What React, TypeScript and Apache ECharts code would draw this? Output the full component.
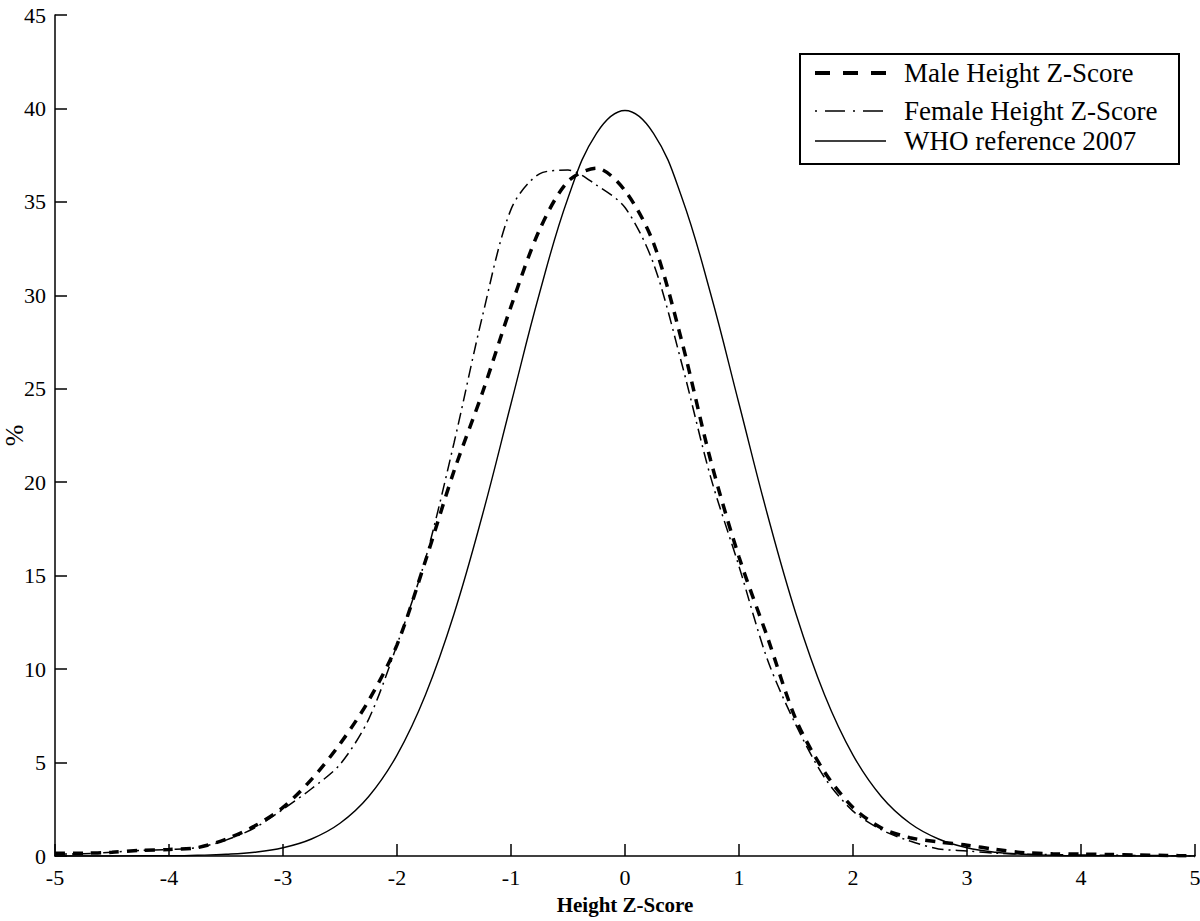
import React, { useEffect, useRef } from "react";
import * as echarts from "echarts";

const zValues = [
  -5, -4.75, -4.5, -4.25, -4, -3.75, -3.5, -3.25, -3, -2.75, -2.5, -2.25, -2, -1.75, -1.5, -1.25, -1, -0.75, -0.5, -0.25,
  0, 0.25, 0.5, 0.75, 1, 1.25, 1.5, 1.75, 2, 2.25, 2.5, 2.75, 3, 3.25, 3.5, 3.75, 4, 4.25, 4.5, 4.75, 5,
];

const maleValues = [
  0.15, 0.15, 0.2, 0.3, 0.35, 0.45, 0.9, 1.6, 2.6, 4.1, 6.0, 8.3, 11.3, 15.8, 20.6, 24.8, 29.4, 33.5, 36.1, 36.8,
  35.6, 32.8, 27.5, 21.2, 16.0, 11.7, 7.3, 4.5, 2.6, 1.5, 0.98, 0.75, 0.58, 0.35, 0.18, 0.12, 0.1, 0.08, 0.05, 0.03, 0.0,
];

const femaleValues = [
  0.1, 0.12, 0.2, 0.3, 0.35, 0.45, 0.85, 1.5, 2.5, 3.6, 4.9, 7.3, 11.3, 15.9, 22.1, 28.9, 34.6, 36.5, 36.7, 35.9,
  34.7, 31.7, 26.3, 20.3, 15.5, 10.5, 7.0, 4.2, 2.4, 1.4, 0.8, 0.38, 0.27, 0.15, 0.1, 0.07, 0.05, 0.04, 0.03, 0.02, 0.0,
];

const whoValues = [
  0.0, 0.0, 0.0, 0.01, 0.01, 0.04, 0.09, 0.2, 0.44, 0.91, 1.75, 3.17, 5.4, 8.63, 12.95, 18.26, 24.2, 30.11, 35.21, 38.67,
  39.89, 38.67, 35.21, 30.11, 24.2, 18.26, 12.95, 8.63, 5.4, 3.17, 1.75, 0.91, 0.44, 0.2, 0.09, 0.04, 0.01, 0.01, 0.0, 0.0, 0.0,
];

const legendLabels = ["Male Height Z-Score", "Female Height Z-Score", "WHO reference 2007"];

const pairs = (ys: number[]) => zValues.map((z, i) => [z, ys[i]]);

const FONT = "'Liberation Serif', 'Times New Roman', serif";

export default function App() {
  const ref = useRef<HTMLDivElement>(null);
  useEffect(() => {
    if (!ref.current) return;
    const chart = echarts.init(ref.current, null, { renderer: "svg" });
    const legendY = [73, 111, 141];
    const legendStyles = [
      { lineWidth: 4, lineDash: [15, 13] },
      { lineWidth: 1.6, lineDash: [2, 8, 20, 8] },
      { lineWidth: 1.4, lineDash: null as any },
    ];
    const legendGraphics: any[] = [
      {
        type: "rect",
        shape: { x: 800, y: 54, width: 379, height: 110 },
        style: { fill: "#fff", stroke: "#000", lineWidth: 2 },
        z: 10,
      },
    ];
    legendLabels.forEach((lab, i) => {
      legendGraphics.push({
        type: "line",
        shape: { x1: 815, y1: legendY[i], x2: 886, y2: legendY[i] },
        style: { stroke: "#000", lineWidth: legendStyles[i].lineWidth, lineDash: legendStyles[i].lineDash },
        z: 11,
      });
      legendGraphics.push({
        type: "text",
        x: 904,
        y: legendY[i],
        style: { text: lab, fill: "#000", font: `27px ${FONT}`, verticalAlign: "middle", align: "left" },
        z: 11,
      });
    });

    chart.setOption({
      animation: false,
      backgroundColor: "#fff",
      grid: { left: 55, right: 5, top: 15, bottom: 65, containLabel: false, outerBoundsMode: "none" },
      xAxis: {
        type: "value",
        min: -5,
        max: 5,
        interval: 1,
        name: "Height Z-Score",
        nameLocation: "middle",
        nameGap: 38,
        nameMoveOverlap: false,
        nameTextStyle: { fontFamily: FONT, fontSize: 21, fontWeight: "bold", color: "#000" },
        axisLine: { onZero: false, lineStyle: { color: "#000", width: 1.5 } },
        axisTick: { inside: true, length: 12, lineStyle: { color: "#000", width: 1.5 } },
        axisLabel: { fontFamily: FONT, fontSize: 22, color: "#000", margin: 10 },
        splitLine: { show: false },
      },
      yAxis: {
        type: "value",
        min: 0,
        max: 45,
        interval: 5,
        name: "%",
        nameLocation: "middle",
        nameGap: 28,
        nameMoveOverlap: false,
        nameTextStyle: { fontFamily: FONT, fontSize: 26, color: "#000" },
        axisLine: { show: true, onZero: false, lineStyle: { color: "#000", width: 1.5 } },
        axisTick: { show: true, inside: true, length: 12, lineStyle: { color: "#000", width: 1.5 } },
        axisLabel: { fontFamily: FONT, fontSize: 22, color: "#000", margin: 9 },
        splitLine: { show: false },
      },
      series: [
        {
          name: legendLabels[0],
          type: "line",
          data: pairs(maleValues),
          showSymbol: false,
          smooth: 0.3,
          lineStyle: { color: "#000", width: 3.5, type: [10, 8] },
          z: 3,
        },
        {
          name: legendLabels[1],
          type: "line",
          data: pairs(femaleValues),
          showSymbol: false,
          smooth: 0.3,
          lineStyle: { color: "#000", width: 1.5, type: [12, 5, 2, 5] },
          z: 2,
        },
        {
          name: legendLabels[2],
          type: "line",
          data: pairs(whoValues),
          showSymbol: false,
          smooth: 0.4,
          lineStyle: { color: "#000", width: 1.4, type: "solid" },
          z: 1,
        },
      ],
      graphic: legendGraphics,
    });
    return () => chart.dispose();
  }, []);
  return (
    <div
      ref={ref}
      style={{ position: "fixed", left: 0, top: 0, width: 1200, height: 921, background: "#fff" }}
    />
  );
}
